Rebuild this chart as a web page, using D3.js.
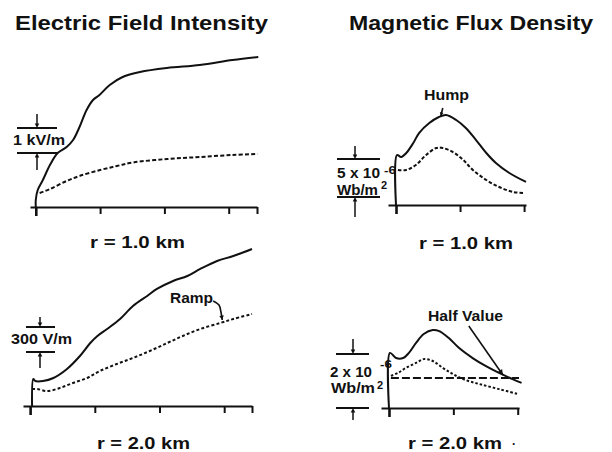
<!DOCTYPE html>
<html><head><meta charset="utf-8">
<script src="https://cdn.jsdelivr.net/npm/d3@7"></script>
<style>
html,body{margin:0;padding:0;background:#fff;}
svg{display:block;}
text{font-family:"Liberation Sans",Arial,Helvetica,sans-serif;font-weight:bold;fill:#111;}
</style></head>
<body><svg id="c" width="612" height="452"></svg>
<script>
// ---- Data ----
// Electric field, r = 1.0 km  [time (tick units), kV/m]
const e1Solid = [[0,0],[0,0.28],[0.03,0.68],[0.11,1.08],[0.22,1.68],[0.34,2.16],[0.48,2.40],[0.58,2.68],[0.68,3.20],[0.79,3.88],[0.89,4.28],[0.99,4.48],[1.15,4.88],[1.35,5.20],[1.62,5.40],[2.04,5.56],[2.55,5.68],[3.06,5.88],[3.46,6.0]];
const e1Dash  = [[0.06,0.56],[0.22,0.72],[0.48,1.04],[0.68,1.24],[1.0,1.48],[1.26,1.64],[1.51,1.78],[2.04,1.92],[2.55,2.0],[3.06,2.08],[3.45,2.12]];
// Electric field, r = 2.0 km  [time, V/m]
const e2Solid = [[0.03,0],[0.05,324],[0.08,300],[0.2,300],[0.36,336],[0.57,444],[0.77,600],[0.93,756],[1.04,840],[1.19,924],[1.39,1044],[1.59,1200],[1.81,1320],[1.96,1404],[2.21,1500],[2.43,1560],[2.63,1644],[2.89,1740],[3.14,1800],[3.43,1884]];
const e2Dash  = [[0.03,204],[0.11,204],[0.26,180],[0.46,216],[0.66,276],[0.88,336],[1.08,420],[1.34,504],[1.59,576],[1.85,660],[2.12,756],[2.36,840],[2.63,924],[2.94,996],[3.14,1044],[3.43,1104]];
// Magnetic flux density, r = 1.0 km  [time, 1e-6 Wb/m^2]
const m1Solid = [[0,0],[0.016,6.58],[0.08,6.32],[0.16,6.84],[0.27,8.16],[0.36,9.47],[0.52,10.79],[0.67,11.58],[0.78,11.84],[0.94,11.18],[1.09,10.13],[1.25,8.55],[1.41,6.84],[1.56,5.53],[1.77,4.21],[2.03,3.03]];
const m1Dash  = [[0.03,4.61],[0.16,4.61],[0.31,5.26],[0.47,6.58],[0.63,7.5],[0.73,7.5],[0.89,6.97],[1.05,5.92],[1.2,4.61],[1.41,3.29],[1.61,2.37],[1.83,1.71],[2.0,1.58]];
// Magnetic flux density, r = 2.0 km  [time, 1e-6 Wb/m^2]
const m2Solid = [[0,0],[0.016,2.04],[0.11,1.85],[0.22,1.85],[0.31,2.04],[0.42,2.41],[0.54,2.74],[0.68,2.89],[0.78,2.85],[0.93,2.59],[1.09,2.22],[1.30,1.85],[1.50,1.56],[1.71,1.30],[1.92,1.07],[2.06,0.93]];
const m2Dot   = [[0.03,1.19],[0.14,1.30],[0.26,1.48],[0.42,1.67],[0.54,1.81],[0.68,1.74],[0.84,1.48],[0.99,1.26],[1.15,1.07],[1.40,0.89],[1.71,0.70],[2.0,0.52]];
const m2Half  = [[0.03,1.11],[2.02,1.11]];
// annotation pointers
const rampPointer = [[2.83,1260],[2.92,1212],[2.95,1128],[2.97,1032]];
const humpPointer = [[0.73,12.76],[0.70,11.71]];
const halfPointer = [[1.24,3.04],[1.77,1.22]];
// tick positions and labels
const eTicks = [0,1,2,3];
const mTicks = [0,1,2];
const titles = ["Electric Field Intensity","Magnetic Flux Density"];
const distLabels = ["r = 1.0 km","r = 2.0 km"];
const scaleLabels = ["1 kV/m","300 V/m","5 x 10","2 x 10","Wb/m"];

// ---- Layout ----
const svg = d3.select("#c");
const panels = [
  {key:"e1", xd:[-0.09,3.44], xr:[30,257], yd:[0,6.2], yr:[207,52], ticks:eTicks.concat([3.44]), tick:7},
  {key:"e2", xd:[-0.11,3.43], xr:[23,252], yd:[0,2000], yr:[406,239.3], ticks:eTicks.concat([3.43]), tick:7},
  {key:"m1", xd:[-0.125,2.03], xr:[388,526], yd:[0,13], yr:[205,106.2], ticks:mTicks, tick:7},
  {key:"m2", xd:[-0.124,2.02], xr:[381,519], yd:[0,3.5], yr:[408,313.5], ticks:mTicks, tick:7}
];
const S = {};
panels.forEach(p=>{
  const x = d3.scaleLinear().domain(p.xd).range(p.xr);
  const y = d3.scaleLinear().domain(p.yd).range(p.yr);
  S[p.key] = {x,y};
  const g = svg.append("g").attr("transform",`translate(0,${p.yr[0]})`);
  g.call(d3.axisBottom(x).tickValues(p.ticks).tickFormat("").tickSizeOuter(0).tickSizeInner(p.tick));
  g.select(".domain").attr("stroke","#111").attr("stroke-width",2);
  g.selectAll(".tick line").attr("stroke","#111").attr("stroke-width",2);
  g.selectAll(".tick").filter(d=>d===0).select("line").attr("y2",9).attr("stroke-width",2.6);
});

function curve(key, data, dash, w){
  const {x,y} = S[key];
  const line = d3.line().x(d=>x(d[0])).y(d=>y(d[1])).curve(d3.curveCatmullRom.alpha(0.5));
  svg.append("path").datum(data).attr("d",line).attr("fill","none")
    .attr("stroke","#111").attr("stroke-width",w||2).attr("stroke-linejoin","round")
    .attr("stroke-dasharray",dash||null);
}
curve("e1", e1Solid);
curve("e1", e1Dash, "4,2.2", 2);
curve("e2", e2Solid);
curve("e2", e2Dash, "3,2.2", 2);
curve("m1", m1Solid);
curve("m1", m1Dash, "3.5,2", 2);
curve("m2", m2Solid);
curve("m2", m2Dot, "2.5,2", 2);
curve("m2", m2Half, "8,3", 2);

// arrowhead helper
function head(x2,y2,ang,size){
  const s=size||5;
  const a1=ang+Math.PI*0.85, a2=ang-Math.PI*0.85;
  svg.append("path").attr("d",`M${x2},${y2}L${x2+s*Math.cos(a1)},${y2+s*Math.sin(a1)}L${x2+s*Math.cos(a2)},${y2+s*Math.sin(a2)}Z`).attr("fill","#111");
}
function pointer(key,data,size){
  const {x,y}=S[key];
  const line=d3.line().x(d=>x(d[0])).y(d=>y(d[1])).curve(d3.curveCatmullRom.alpha(0.5));
  svg.append("path").datum(data).attr("d",line).attr("fill","none").attr("stroke","#111").attr("stroke-width",1.6);
  const n=data.length, a=data[n-2], b=data[n-1];
  const ang=Math.atan2(y(b[1])-y(a[1]), x(b[0])-x(a[0]));
  head(x(b[0]),y(b[1]),ang,size);
}
pointer("e2", rampPointer, 5);
pointer("m1", humpPointer, 4);
pointer("m2", halfPointer, 6);

// scale bars
function scaleBar(key, bottomVal, span, x1, x2, ax, upLen, downLen){
  const {y}=S[key];
  const yt=y(bottomVal+span), yb=y(bottomVal);
  svg.append("line").attr("x1",x1).attr("x2",x2).attr("y1",yt).attr("y2",yt).attr("stroke","#111").attr("stroke-width",2);
  svg.append("line").attr("x1",x1).attr("x2",x2).attr("y1",yb).attr("y2",yb).attr("stroke","#111").attr("stroke-width",2);
  svg.append("line").attr("x1",ax).attr("x2",ax).attr("y1",yt-upLen).attr("y2",yt-2).attr("stroke","#111").attr("stroke-width",1.5);
  head(ax,yt,Math.PI/2,5);
  svg.append("line").attr("x1",ax).attr("x2",ax).attr("y1",yb+downLen).attr("y2",yb+2).attr("stroke","#111").attr("stroke-width",1.5);
  head(ax,yb,-Math.PI/2,5);
}
scaleBar("e1", 2.16, 1, 17, 57, 37, 14, 17);
scaleBar("e2", 648, 300, 26, 55, 40, 10, 16);
scaleBar("m1", 1.05, 5, 337, 380, 355, 13, 20);
scaleBar("m2", 0, 2, 336, 369, 353, 15, 12);

function txt(s,x,yb,size,len){
  const t=svg.append("text").attr("x",x).attr("y",yb).attr("font-size",size).text(s);
  if(len) t.attr("textLength",len).attr("lengthAdjust","spacingAndGlyphs");
  return t;
}
// titles
txt(titles[0],15,30,21,253);
txt(titles[1],349,30,21,244);
// distance labels
txt(distLabels[0],90,248,17,95);
txt(distLabels[1],97,449,17,93);
txt(distLabels[0],419,249,17,94);
txt(distLabels[1],408,449,17,94);
txt("·",512,448,12);
// scale bar labels
txt(scaleLabels[0],13,145,14,52);
txt(scaleLabels[1],11,344,14,61);
txt(scaleLabels[2],337,178,14,43);
txt("-6",384,174,11,12);
txt("2",381,189,11);
txt(scaleLabels[4],337,195,14,41);
txt(scaleLabels[3],330,377,14,42);
txt("-6",380,368,11,12);
txt("2",377,389,11);
txt(scaleLabels[4],331,393,14,44);
// annotations
txt("Hump",424,100,14,45);
txt("Ramp",170,303,14,43);
txt("Half Value",428,321,14,75);
</script></body></html>
